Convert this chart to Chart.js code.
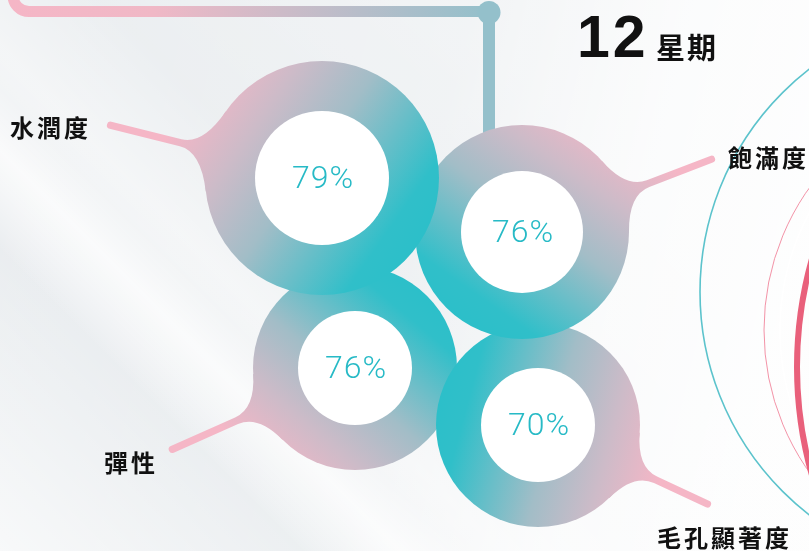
<!DOCTYPE html>
<html>
<head>
<meta charset="utf-8">
<script src="https://cdn.jsdelivr.net/npm/chart.js@4/dist/chart.umd.min.js"></script>
<style>
  html, body { margin: 0; padding: 0; background: #e9edf0; overflow: hidden; }
  #wrap { width: 809px; height: 551px; }
</style>
</head>
<body>
<div id="wrap"><canvas id="skin-chart" width="809" height="551"></canvas></div>
<script>
// ===== Data =====
var categories = ['水潤度', '飽滿度', '彈性', '毛孔顯著度'];
var scores = [79, 76, 76, 70];
var weekValue = '12';
var weekUnit = '星期';

// ===== Layout (pixel units of the hidden scales) =====
var ringX = [322, 522, 355, 538];
var ringY = [178, 232, 368, 425];
var ringOuter = [117, 107, 102, 102];
var ringInner = [67, 61, 57, 57];
var tailAngle = [-166, -21, 156, 25];
var tailLen = [218, 203, 200, 187];
var pinkAngle = [-145, -55, 130, 15];
var labelX = [88, 728, 155, 657];
var labelY = [128, 158, 463, 538];
var labelAlign = ['right', 'left', 'right', 'left'];
var drawOrder = [2, 3, 1, 0];

var TEAL = '#2cbfc9';
var PINK = '#f5b6c6';

function rad(d) { return d * Math.PI / 180; }

function ringGradient(ctx, i) {
  var a = rad(pinkAngle[i]), R = ringOuter[i];
  var ux = Math.cos(a), uy = Math.sin(a);
  var g = ctx.createLinearGradient(ringPos[i].x - ux * R * 1.0, ringPos[i].y - uy * R * 1.0,
                                   ringPos[i].x + ux * R * 1.3, ringPos[i].y + uy * R * 1.3);
  g.addColorStop(0, TEAL);
  g.addColorStop(0.12, '#30bfc9');
  g.addColorStop(0.5, '#a2bdc7');
  g.addColorStop(0.75, '#cdbbc8');
  g.addColorStop(1, PINK);
  return g;
}

function tailPath(ctx, cx, cy, R, ang, len, w) {
  var d = 0.36, s = Math.sin(d), c = Math.cos(d);
  var t = (R * s - w) / c, kx = R * c + t * s, qx = kx + 22;
  ctx.save();
  ctx.translate(cx, cy);
  ctx.rotate(ang);
  ctx.beginPath();
  ctx.moveTo(0, 0);
  ctx.lineTo(R * c, R * s);
  ctx.quadraticCurveTo(kx, w, qx, w);
  ctx.lineTo(len, w);
  ctx.arc(len, 0, w, Math.PI / 2, -Math.PI / 2, true);
  ctx.lineTo(qx, -w);
  ctx.quadraticCurveTo(kx, -w, R * c, -R * s);
  ctx.closePath();
  ctx.restore();
}

var ringPos = [];

var backdrop = {
  id: 'backdrop',
  beforeDraw: function(chart) {
    var ctx = chart.ctx, W = chart.width, H = chart.height;
    ctx.save();
    ctx.fillStyle = '#e6eaed';
    ctx.fillRect(0, 0, W, H);
    var g = ctx.createLinearGradient(0, 0, W, H * 0.35);
    g.addColorStop(0, 'rgba(255,255,255,0)');
    g.addColorStop(0.55, 'rgba(255,255,255,0.15)');
    g.addColorStop(0.8, 'rgba(255,255,255,0.75)');
    g.addColorStop(1, 'rgba(255,255,255,0.9)');
    ctx.fillStyle = g;
    ctx.fillRect(0, 0, W, H);
    // soft diagonal light bands
    var b = ctx.createLinearGradient(0, 250, 250, 0);
    b.addColorStop(0, 'rgba(255,255,255,0)');
    b.addColorStop(0.2, 'rgba(255,255,255,0.7)');
    b.addColorStop(0.32, 'rgba(255,255,255,0.05)');
    b.addColorStop(0.5, 'rgba(255,255,255,0)');
    b.addColorStop(1, 'rgba(255,255,255,0)');
    ctx.fillStyle = b;
    ctx.fillRect(0, 0, W, H);
    var b2 = ctx.createLinearGradient(150, 700, 650, 200);
    b2.addColorStop(0, 'rgba(255,255,255,0.7)');
    b2.addColorStop(0.3, 'rgba(255,255,255,0.15)');
    b2.addColorStop(0.5, 'rgba(255,255,255,0.55)');
    b2.addColorStop(0.65, 'rgba(255,255,255,0.2)');
    b2.addColorStop(1, 'rgba(255,255,255,0.4)');
    ctx.fillStyle = b2;
    ctx.fillRect(0, 0, W, H);

    // decorative arcs at the right
    ctx.strokeStyle = '#5cc3cc';
    ctx.lineWidth = 1.6;
    ctx.beginPath(); ctx.arc(982, 292, 282, 0, Math.PI * 2); ctx.stroke();
    ctx.strokeStyle = 'rgba(240,120,145,0.8)';
    ctx.lineWidth = 1;
    ctx.beginPath(); ctx.arc(1010, 330, 246, 0, Math.PI * 2); ctx.stroke();
    ctx.strokeStyle = 'rgba(255,255,255,0.9)';
    ctx.lineWidth = 1.5;
    ctx.beginPath(); ctx.arc(1030, 330, 250, 0, Math.PI * 2); ctx.stroke();
    ctx.strokeStyle = '#e9607b';
    ctx.lineWidth = 6;
    ctx.beginPath(); ctx.arc(1195, 367, 398, 0, Math.PI * 2); ctx.stroke();

    // top connector
    var lg = ctx.createLinearGradient(10, 0, 489, 0);
    lg.addColorStop(0, PINK);
    lg.addColorStop(0.3, '#f0b8c6');
    lg.addColorStop(1, '#93c0cb');
    ctx.strokeStyle = lg;
    ctx.lineWidth = 11;
    ctx.lineCap = 'butt';
    ctx.beginPath();
    ctx.moveTo(13, -5);
    ctx.arcTo(13, 11.5, 30, 11.5, 16);
    ctx.lineTo(489, 11.5);
    ctx.stroke();
    ctx.strokeStyle = '#94c0cb';
    ctx.lineWidth = 12;
    ctx.beginPath();
    ctx.moveTo(489, 12);
    ctx.lineTo(489, 150);
    ctx.stroke();
    ctx.fillStyle = '#94c0cb';
    ctx.beginPath(); ctx.arc(489, 12.5, 11.5, 0, Math.PI * 2); ctx.fill();

    // title
    ctx.fillStyle = '#111';
    ctx.textBaseline = 'alphabetic';
    ctx.textAlign = 'left';
    ctx.font = 'bold 59px "Liberation Sans", Arial, sans-serif';
    ctx.letterSpacing = '3px';
    ctx.fillText(weekValue, 577, 57);
    ctx.font = 'bold 29px "Noto Sans CJK TC", sans-serif';
    ctx.letterSpacing = '2px';
    ctx.fillText(weekUnit, 656, 59);
    ctx.restore();
  },
  beforeDatasetsDraw: function(chart) {
    var ctx = chart.ctx;
    var meta = chart.getDatasetMeta(0);
    ringPos = meta.data.map(function(el) { return { x: el.x, y: el.y }; });
    ctx.save();
    drawOrder.forEach(function(i) {
      var p = ringPos[i];
      var g = ringGradient(ctx, i);
      ctx.fillStyle = g;
      tailPath(ctx, p.x, p.y, ringOuter[i], rad(tailAngle[i]), tailLen[i], 3.6);
      ctx.fill();
      ctx.beginPath();
      ctx.arc(p.x, p.y, ringOuter[i], 0, Math.PI * 2);
      ctx.fill();
    });
    // category labels
    ctx.fillStyle = '#111';
    ctx.font = 'bold 24px "Noto Sans CJK TC", sans-serif';
    ctx.letterSpacing = '3px';
    ctx.textBaseline = 'middle';
    categories.forEach(function(c, i) {
      ctx.textAlign = labelAlign[i];
      ctx.fillText(c, labelX[i] + (labelAlign[i] === 'right' ? 3 : 0), labelY[i]);
    });
    ctx.restore();
  },
  afterDatasetsDraw: function(chart) {
    var ctx = chart.ctx;
    var meta = chart.getDatasetMeta(0);
    ctx.save();
    ctx.fillStyle = '#27bac6';
    ctx.font = '300 32px Roboto, Lato, sans-serif';
    ctx.letterSpacing = '1px';
    ctx.textAlign = 'center';
    ctx.textBaseline = 'middle';
    meta.data.forEach(function(el, i) {
      ctx.fillText(scores[i] + '%', el.x + 1, el.y + 2);
    });
    ctx.restore();
  }
};

var points = scores.map(function(v, i) {
  return { x: ringX[i], y: ringY[i], r: ringInner[i], v: v };
});

new Chart(document.getElementById('skin-chart').getContext('2d'), {
  type: 'bubble',
  data: {
    labels: categories,
    datasets: [{
      label: '12星期',
      data: points,
      backgroundColor: '#ffffff',
      borderWidth: 0,
      hoverRadius: 0,
      clip: false
    }]
  },
  options: {
    responsive: false,
    animation: false,
    events: [],
    layout: { padding: 0, autoPadding: false },
    plugins: { legend: { display: false }, tooltip: { enabled: false } },
    scales: {
      x: { type: 'linear', min: 0, max: 809, display: false },
      y: { type: 'linear', min: 0, max: 551, reverse: true, display: false }
    }
  },
  plugins: [backdrop]
});
</script>
</body>
</html>
